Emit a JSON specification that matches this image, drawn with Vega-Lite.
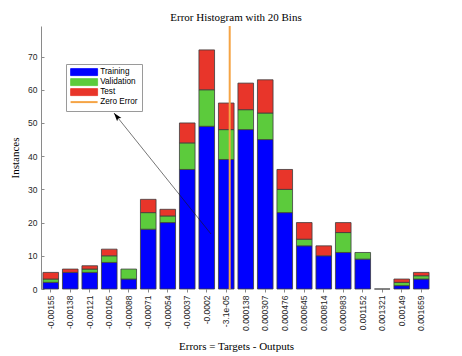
{
  "$schema": "https://vega.github.io/schema/vega-lite/v6.json",
  "width": 390,
  "height": 263,
  "autosize": {"type": "none"},
  "padding": {"left": 41, "top": 26, "right": 31, "bottom": 67},
  "background": "white",
  "title": {"text": "Error Histogram with 20 Bins", "font": "Liberation Serif", "fontSize": 11, "fontWeight": "normal", "color": "black", "offset": 2, "frame": "group"},
  "config": {
    "view": {"stroke": null},
    "axis": {"labelFont": "Liberation Sans", "labelFontSize": 8.5, "labelColor": "#262626", "titleFont": "Liberation Serif", "titleFontSize": 11, "titleFontWeight": "normal", "titleColor": "black", "domainColor": "#8a8a8a", "tickColor": "#8a8a8a", "grid": false}
  },
  "datasets": {
    "sets": [{"set": "Training", "rank": 1}, {"set": "Validation", "rank": 2}, {"set": "Test", "rank": 3}]
  },
  "resolve": {"scale": {"x": "independent"}},
  "layer": [
    {
      "data": {"values": [
        {"bin": "-0.00155", "set": "Training", "count": 2}, {"bin": "-0.00155", "set": "Validation", "count": 1}, {"bin": "-0.00155", "set": "Test", "count": 2},
        {"bin": "-0.00138", "set": "Training", "count": 5}, {"bin": "-0.00138", "set": "Test", "count": 1},
        {"bin": "-0.00121", "set": "Training", "count": 5}, {"bin": "-0.00121", "set": "Validation", "count": 1}, {"bin": "-0.00121", "set": "Test", "count": 1},
        {"bin": "-0.00105", "set": "Training", "count": 8}, {"bin": "-0.00105", "set": "Validation", "count": 2}, {"bin": "-0.00105", "set": "Test", "count": 2},
        {"bin": "-0.00088", "set": "Training", "count": 3}, {"bin": "-0.00088", "set": "Validation", "count": 3},
        {"bin": "-0.00071", "set": "Training", "count": 18}, {"bin": "-0.00071", "set": "Validation", "count": 5}, {"bin": "-0.00071", "set": "Test", "count": 4},
        {"bin": "-0.00054", "set": "Training", "count": 20}, {"bin": "-0.00054", "set": "Validation", "count": 2}, {"bin": "-0.00054", "set": "Test", "count": 2},
        {"bin": "-0.00037", "set": "Training", "count": 36}, {"bin": "-0.00037", "set": "Validation", "count": 8}, {"bin": "-0.00037", "set": "Test", "count": 6},
        {"bin": "-0.0002", "set": "Training", "count": 49}, {"bin": "-0.0002", "set": "Validation", "count": 11}, {"bin": "-0.0002", "set": "Test", "count": 12},
        {"bin": "-3.1e-05", "set": "Training", "count": 39}, {"bin": "-3.1e-05", "set": "Validation", "count": 9}, {"bin": "-3.1e-05", "set": "Test", "count": 8},
        {"bin": "0.000138", "set": "Training", "count": 48}, {"bin": "0.000138", "set": "Validation", "count": 6}, {"bin": "0.000138", "set": "Test", "count": 8},
        {"bin": "0.000307", "set": "Training", "count": 45}, {"bin": "0.000307", "set": "Validation", "count": 8}, {"bin": "0.000307", "set": "Test", "count": 10},
        {"bin": "0.000476", "set": "Training", "count": 23}, {"bin": "0.000476", "set": "Validation", "count": 7}, {"bin": "0.000476", "set": "Test", "count": 6},
        {"bin": "0.000645", "set": "Training", "count": 13}, {"bin": "0.000645", "set": "Validation", "count": 2}, {"bin": "0.000645", "set": "Test", "count": 5},
        {"bin": "0.000814", "set": "Training", "count": 10}, {"bin": "0.000814", "set": "Test", "count": 3},
        {"bin": "0.000983", "set": "Training", "count": 11}, {"bin": "0.000983", "set": "Validation", "count": 6}, {"bin": "0.000983", "set": "Test", "count": 3},
        {"bin": "0.001152", "set": "Training", "count": 9}, {"bin": "0.001152", "set": "Validation", "count": 2},
        {"bin": "0.001321", "set": "Training", "count": 0},
        {"bin": "0.00149", "set": "Training", "count": 1}, {"bin": "0.00149", "set": "Validation", "count": 1}, {"bin": "0.00149", "set": "Test", "count": 1},
        {"bin": "0.001659", "set": "Training", "count": 3}, {"bin": "0.001659", "set": "Validation", "count": 1}, {"bin": "0.001659", "set": "Test", "count": 1}
      ]},
      "transform": [
        {"lookup": "set", "from": {"data": {"name": "sets"}, "key": "set", "fields": ["rank"]}}
      ],
      "mark": {"type": "bar", "stroke": "#3c3c3c", "strokeWidth": 0.8},
      "encoding": {
        "x": {"field": "bin", "type": "nominal", "sort": null, "scale": {"paddingInner": 0.2, "paddingOuter": 0.1},
              "axis": {"title": "Errors = Targets - Outputs", "labelAngle": 270, "domain": false, "tickSize": 3, "labelPadding": 3, "titlePadding": 10}},
        "y": {"field": "count", "type": "quantitative", "stack": "zero", "scale": {"domain": [0, 79.2], "nice": false},
              "axis": {"title": "Instances", "values": [0, 10, 20, 30, 40, 50, 60, 70], "tickSize": -3, "labelPadding": 7, "titlePadding": 7}},
        "color": {"field": "set", "type": "nominal", "sort": ["Training", "Validation", "Test", "Zero Error"],
                  "scale": {"domain": ["Training", "Validation", "Test", "Zero Error"], "range": ["#0000ff", "#5ccb3c", "#e8352a", "#f5a445"]},
                  "legend": {
                    "title": null, "orient": "none", "legendX": 25, "legendY": 38,
                    "labelFont": "Liberation Sans", "labelFontSize": 8.2, "labelColor": "black",
                    "symbolType": "M-3.857,-1H3.857V1H-3.857Z", "symbolSize": 49,
                    "symbolOffset": 10, "labelOffset": 12,
                    "fillColor": "white", "strokeColor": "#9a9a9a", "padding": 4, "rowPadding": -3.8,
                    "encoding": {"symbols": {
                      "shape": {"value": {"expr": "datum.value === 'Zero Error' ? 'M-3.857,0H3.857' : 'M-3.857,-1H3.857V1H-3.857Z'"}},
                      "fill": {"value": {"expr": "datum.value === 'Zero Error' ? 'transparent' : datum.value === 'Training' ? '#0000ff' : datum.value === 'Validation' ? '#5ccb3c' : '#e8352a'"}},
                      "stroke": {"value": {"expr": "datum.value === 'Zero Error' ? '#f5a445' : '#3c3c3c'"}},
                      "strokeWidth": {"value": {"expr": "datum.value === 'Zero Error' ? 2 : 0.8"}},
                      "opacity": {"value": 1}
                    }}
                  }},
        "order": {"field": "rank", "type": "quantitative", "sort": "ascending"}
      }
    },
    {
      "data": {"values": [{"error": 0, "set": "Zero Error"}]},
      "mark": {"type": "rule", "strokeWidth": 2},
      "encoding": {
        "x": {"field": "error", "type": "quantitative", "scale": {"domain": [-0.0016345, 0.0017435], "nice": false, "zero": false}, "axis": null},
        "color": {"field": "set", "type": "nominal"}
      }
    },
    {
      "data": {"values": [{"x": -0.0010022, "y": 53.0, "x2": -0.000162, "y2": 16.56}]},
      "mark": {"type": "rule", "color": "#1a1a1a", "strokeWidth": 0.6},
      "encoding": {
        "x": {"field": "x", "type": "quantitative", "scale": {"domain": [-0.0016345, 0.0017435], "nice": false, "zero": false}, "axis": null},
        "y": {"field": "y", "type": "quantitative", "scale": {"domain": [0, 79.2], "nice": false},
              "axis": {"title": "Instances", "values": [0, 10, 20, 30, 40, 50, 60, 70], "tickSize": -3, "labelPadding": 7, "titlePadding": 7}},
        "x2": {"field": "x2"},
        "y2": {"field": "y2"}
      }
    },
    {
      "data": {"values": [{"x": -0.0009754, "y": 51.83}]},
      "mark": {"type": "point", "filled": true, "color": "black", "opacity": 1, "shape": "M0,-1L0.55,0.7L0,0.35L-0.55,0.7Z", "size": 100, "angle": 321.35},
      "encoding": {
        "x": {"field": "x", "type": "quantitative", "scale": {"domain": [-0.0016345, 0.0017435], "nice": false, "zero": false}, "axis": null},
        "y": {"field": "y", "type": "quantitative", "scale": {"domain": [0, 79.2], "nice": false},
              "axis": {"title": "Instances", "values": [0, 10, 20, 30, 40, 50, 60, 70], "tickSize": -3, "labelPadding": 7, "titlePadding": 7}}
      }
    }
  ]
}
